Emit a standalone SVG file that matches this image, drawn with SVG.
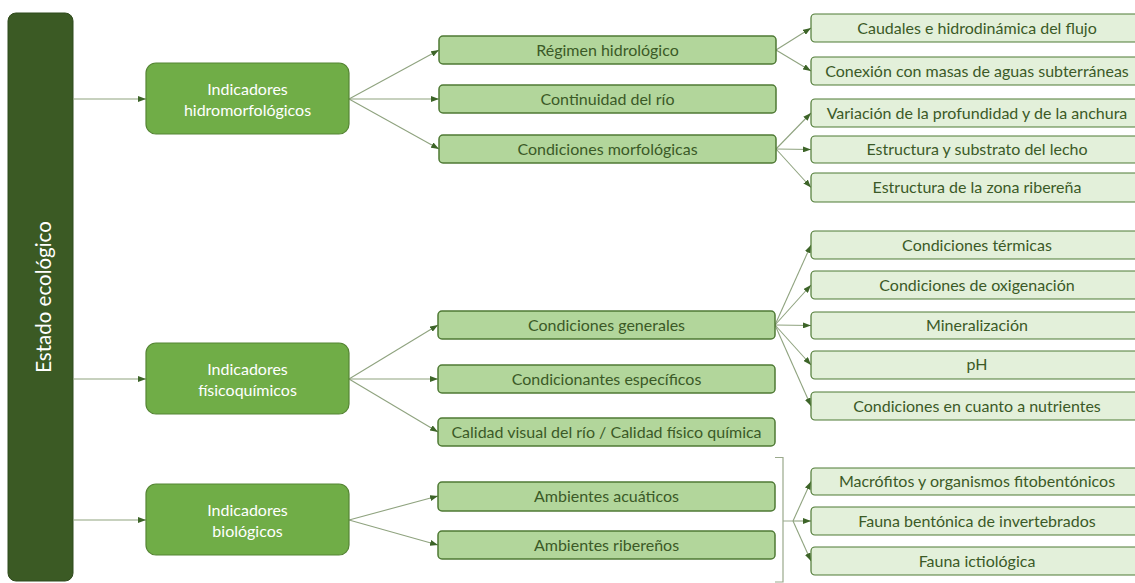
<svg xmlns="http://www.w3.org/2000/svg" width="1135" height="583" viewBox="0 0 1135 583">
  <defs>
    <marker id="arr" viewBox="0 0 8 6" refX="8" refY="3" markerWidth="8" markerHeight="6" markerUnits="userSpaceOnUse" orient="auto">
      <path d="M0,0 L8,3 L0,6 Z" fill="#3d6428"/>
    </marker>
    <style>
      .root { fill: #3b5a24; stroke: #2f4a1c; stroke-width: 1; }
      .l1 { fill: #70ad47; stroke: #558534; stroke-width: 1.2; }
      .l2 { fill: #b2d69b; stroke: #4f7a35; stroke-width: 1.5; }
      .l3 { fill: #e3f0da; stroke: #4f7a35; stroke-width: 1.2; }
      .t1 { font-family: Lato, "Open Sans", sans-serif; font-size: 16px; fill: #ffffff; text-anchor: middle; }
      .t2 { font-family: Lato, "Open Sans", sans-serif; font-size: 16px; fill: #3b5a27; text-anchor: middle; }
      .t0 { font-family: Lato, "Open Sans", sans-serif; font-size: 20.5px; fill: #ffffff; text-anchor: middle; }
      .c { fill: none; stroke: #8fa37f; stroke-width: 1.1; marker-end: url(#arr); }
      .br { fill: none; stroke: #9aa98c; stroke-width: 1.2; }
    </style>
  </defs>

  <!-- root bar -->
  <g id="estado">
    <rect class="root" x="8" y="13" width="65" height="568" rx="8"/>
    <text class="t0" transform="translate(51,297) rotate(-90)">Estado ecológico</text>
  </g>

  <!-- connectors -->
  <g id="connectors">
    <line class="c" x1="73" y1="99" x2="146" y2="99"/>
    <line class="c" x1="73" y1="379" x2="146" y2="379"/>
    <line class="c" x1="73" y1="520" x2="146" y2="520"/>

    <line class="c" x1="349" y1="99" x2="439" y2="50"/>
    <line class="c" x1="349" y1="99" x2="439" y2="99"/>
    <line class="c" x1="349" y1="99" x2="439" y2="149"/>

    <line class="c" x1="349" y1="379" x2="438" y2="325"/>
    <line class="c" x1="349" y1="379" x2="438" y2="379"/>
    <line class="c" x1="349" y1="379" x2="438" y2="432"/>

    <line class="c" x1="349" y1="520" x2="438" y2="496"/>
    <line class="c" x1="349" y1="520" x2="438" y2="545"/>

    <line class="c" x1="776" y1="50" x2="811" y2="28"/>
    <line class="c" x1="776" y1="50" x2="811" y2="71"/>

    <line class="c" x1="776" y1="149" x2="811" y2="113"/>
    <line class="c" x1="776" y1="149" x2="811" y2="149.5"/>
    <line class="c" x1="776" y1="149" x2="811" y2="187.5"/>

    <line class="c" x1="775" y1="325" x2="811" y2="245"/>
    <line class="c" x1="775" y1="325" x2="811" y2="285"/>
    <line class="c" x1="775" y1="325" x2="811" y2="325.5"/>
    <line class="c" x1="775" y1="325" x2="811" y2="365"/>
    <line class="c" x1="775" y1="325" x2="811" y2="406"/>

    <!-- brace grouping the biological sub-indicators -->
    <path class="br" d="M775,457.5 H783 V582 H775 M783,521 H793"/>
    <line class="c" x1="793" y1="521" x2="811" y2="481.5"/>
    <line class="c" x1="793" y1="521" x2="811" y2="521"/>
    <line class="c" x1="793" y1="521" x2="811" y2="561"/>
  </g>

  <!-- first level -->
  <g id="hidromorfologicos">
    <rect class="l1" x="146" y="63" width="203" height="71" rx="10"/>
    <text class="t1" x="247.5" y="95">Indicadores</text>
    <text class="t1" x="247.5" y="116">hidromorfológicos</text>
  </g>
  <g id="fisicoquimicos">
    <rect class="l1" x="146" y="343" width="203" height="71" rx="10"/>
    <text class="t1" x="247.5" y="375">Indicadores</text>
    <text class="t1" x="247.5" y="396">físicoquímicos</text>
  </g>
  <g id="biologicos">
    <rect class="l1" x="146" y="484" width="203" height="71" rx="10"/>
    <text class="t1" x="247.5" y="516">Indicadores</text>
    <text class="t1" x="247.5" y="537">biológicos</text>
  </g>

  <!-- second level -->
  <g id="regimen">
    <rect class="l2" x="439" y="36" width="337" height="28" rx="4"/>
    <text class="t2" x="607.5" y="55.5">Régimen hidrológico</text>
  </g>
  <g id="continuidad">
    <rect class="l2" x="439" y="85" width="337" height="28" rx="4"/>
    <text class="t2" x="607.5" y="104.5">Continuidad del río</text>
  </g>
  <g id="morfologicas">
    <rect class="l2" x="439" y="135" width="337" height="28" rx="4"/>
    <text class="t2" x="607.5" y="154.5">Condiciones morfológicas</text>
  </g>
  <g id="generales">
    <rect class="l2" x="438" y="311" width="337" height="28" rx="4"/>
    <text class="t2" x="606.5" y="330.5">Condiciones generales</text>
  </g>
  <g id="especificos">
    <rect class="l2" x="438" y="365" width="337" height="28" rx="4"/>
    <text class="t2" x="606.5" y="384.5">Condicionantes específicos</text>
  </g>
  <g id="calidad">
    <rect class="l2" x="438" y="418" width="337" height="28" rx="4"/>
    <text class="t2" x="606.5" y="437.5">Calidad visual del río / Calidad físico química</text>
  </g>
  <g id="acuaticos">
    <rect class="l2" x="438" y="482" width="337" height="29" rx="4"/>
    <text class="t2" x="606.5" y="502">Ambientes acuáticos</text>
  </g>
  <g id="riberenos">
    <rect class="l2" x="438" y="531" width="337" height="28" rx="4"/>
    <text class="t2" x="606.5" y="550.5">Ambientes ribereños</text>
  </g>

  <!-- third level -->
  <g id="caudales">
    <rect class="l3" x="811" y="14" width="332" height="28" rx="4"/>
    <text class="t2" x="977" y="33.5">Caudales e hidrodinámica del flujo</text>
  </g>
  <g id="conexion">
    <rect class="l3" x="811" y="57" width="332" height="28" rx="4"/>
    <text class="t2" x="977" y="76.5">Conexión con masas de aguas subterráneas</text>
  </g>
  <g id="variacion">
    <rect class="l3" x="811" y="99" width="332" height="28" rx="4"/>
    <text class="t2" x="977" y="118.5">Variación de la profundidad y de la anchura</text>
  </g>
  <g id="lecho">
    <rect class="l3" x="811" y="136" width="332" height="27" rx="4"/>
    <text class="t2" x="977" y="155">Estructura y substrato del lecho</text>
  </g>
  <g id="ribera">
    <rect class="l3" x="811" y="173" width="332" height="29" rx="4"/>
    <text class="t2" x="977" y="193">Estructura de la zona ribereña</text>
  </g>
  <g id="termicas">
    <rect class="l3" x="811" y="231" width="332" height="28" rx="4"/>
    <text class="t2" x="977" y="250.5">Condiciones térmicas</text>
  </g>
  <g id="oxigenacion">
    <rect class="l3" x="811" y="271" width="332" height="28" rx="4"/>
    <text class="t2" x="977" y="290.5">Condiciones de oxigenación</text>
  </g>
  <g id="mineralizacion">
    <rect class="l3" x="811" y="312" width="332" height="27" rx="4"/>
    <text class="t2" x="977" y="331">Mineralización</text>
  </g>
  <g id="ph">
    <rect class="l3" x="811" y="351" width="332" height="28" rx="4"/>
    <text class="t2" x="977" y="370">pH</text>
  </g>
  <g id="nutrientes">
    <rect class="l3" x="811" y="392" width="332" height="28" rx="4"/>
    <text class="t2" x="977" y="411.5">Condiciones en cuanto a nutrientes</text>
  </g>
  <g id="macrofitos">
    <rect class="l3" x="811" y="468" width="332" height="27" rx="4"/>
    <text class="t2" x="977" y="487">Macrófitos y organismos fitobentónicos</text>
  </g>
  <g id="invertebrados">
    <rect class="l3" x="811" y="507" width="332" height="28" rx="4"/>
    <text class="t2" x="977" y="526.5">Fauna bentónica de invertebrados</text>
  </g>
  <g id="ictiologica">
    <rect class="l3" x="811" y="547" width="332" height="28" rx="4"/>
    <text class="t2" x="977" y="566.5">Fauna ictiológica</text>
  </g>
</svg>
